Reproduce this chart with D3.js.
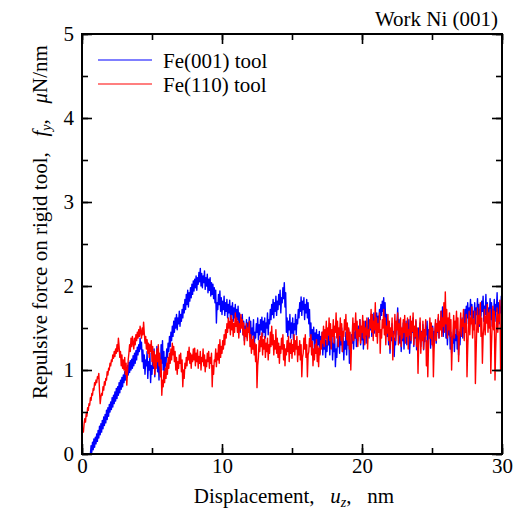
<!DOCTYPE html>
<html><head><meta charset="utf-8">
<script src="https://cdn.jsdelivr.net/npm/d3@7/dist/d3.min.js"></script>
<style>body{margin:0;background:#fff}svg{display:block}text{font-family:"Liberation Serif","Times New Roman",Times,serif;fill:#000}</style>
</head><body>
<script>
const xTicks=[0,10,20,30];
const yTicks=[0,1,2,3,4,5];
const seriesNames=["Fe(001) tool","Fe(110) tool"];
const titleText="Work Ni (001)";
const blueStart=0.6, redStart=0, step=0.05;
const blueValues=[
0.00,0.10,0.02,0.14,0.05,0.18,0.08,0.20,
0.12,0.24,0.15,0.28,0.19,0.33,0.23,0.36,0.26,0.40,0.30,0.44,0.34,0.47,0.37,0.52,0.41,0.55,0.45,0.59,
0.50,0.62,0.53,0.67,0.56,0.70,0.60,0.74,0.63,0.78,0.66,0.80,0.70,0.85,0.73,0.88,0.77,0.91,0.80,0.94,
0.85,0.98,0.88,1.03,0.91,1.05,0.94,1.09,0.97,1.11,1.00,1.13,1.02,1.17,1.05,1.20,1.08,1.23,1.12,1.27,
1.18,1.30,1.22,1.38,1.25,1.33,1.10,1.24,1.02,1.18,0.95,1.12,1.05,1.22,0.90,1.10,1.00,1.20,0.85,1.05,
0.95,1.15,1.02,1.25,0.92,1.12,1.05,1.28,0.98,1.20,0.88,1.10,1.00,1.30,1.08,1.35,1.00,1.22,0.92,1.15,
1.05,1.25,1.15,1.32,1.22,1.40,1.28,1.45,1.35,1.52,1.40,1.58,1.45,1.62,1.50,1.66,1.48,1.62,1.55,1.70,
1.52,1.66,1.58,1.72,1.62,1.78,1.68,1.84,1.72,1.90,1.78,1.95,1.75,1.92,1.82,1.98,1.86,2.02,1.90,2.06,
1.94,2.08,1.98,2.12,1.95,2.10,2.02,2.16,2.05,2.21,2.00,2.15,1.98,2.12,2.04,2.18,1.96,2.10,2.00,2.14,
1.92,2.08,1.95,2.10,1.88,2.04,1.90,2.02,1.85,1.98,1.80,1.95,1.56,1.80,1.72,1.90,1.78,1.94,1.70,1.86,
1.66,1.82,1.72,1.88,1.65,1.80,1.70,1.84,1.62,1.78,1.68,1.83,1.60,1.76,1.66,1.80,1.58,1.74,1.62,1.78,
1.55,1.72,1.60,1.76,1.50,1.68,1.45,1.62,1.52,1.66,1.42,1.58,1.35,1.52,1.45,1.60,1.38,1.56,1.48,1.63,
1.40,1.58,1.30,1.50,1.42,1.60,1.25,1.45,1.38,1.55,1.45,1.62,1.36,1.54,1.42,1.60,1.48,1.63,1.40,1.58,
1.45,1.62,1.38,1.56,1.50,1.68,1.42,1.60,1.55,1.72,1.60,1.78,1.66,1.84,1.62,1.80,1.70,1.88,1.65,1.82,
1.72,1.90,1.78,1.95,1.68,1.86,1.80,1.98,1.85,2.04,1.75,1.92,1.45,1.62,1.40,1.58,1.48,1.66,1.38,1.56,
1.44,1.62,1.36,1.55,1.48,1.66,1.42,1.60,1.55,1.72,1.62,1.80,1.70,1.87,1.65,1.82,1.72,1.86,1.60,1.78,
1.68,1.84,1.62,1.80,1.55,1.72,1.40,1.56,1.30,1.48,1.36,1.51,1.25,1.44,1.32,1.48,1.22,1.42,1.30,1.46,
1.20,1.40,1.28,1.45,1.18,1.36,1.25,1.42,1.15,1.35,1.22,1.40,1.30,1.48,1.18,1.38,1.26,1.44,1.12,1.32,
1.22,1.40,1.04,1.25,1.15,1.36,1.28,1.46,1.20,1.40,1.30,1.50,1.22,1.42,1.12,1.34,1.25,1.45,1.18,1.38,
1.30,1.48,1.08,1.30,1.20,1.42,1.32,1.50,1.25,1.45,1.38,1.55,1.28,1.48,1.35,1.52,1.42,1.60,1.30,1.50,
1.36,1.55,1.25,1.46,1.40,1.58,1.32,1.52,1.45,1.62,1.38,1.56,1.48,1.66,1.40,1.58,1.50,1.68,1.44,1.62,
1.52,1.68,1.46,1.64,1.55,1.72,1.60,1.78,1.65,1.82,1.70,1.86,1.62,1.80,1.50,1.66,1.40,1.58,1.30,1.50,
1.20,1.42,1.35,1.55,1.25,1.46,1.16,1.38,1.30,1.50,1.55,1.74,1.42,1.60,1.32,1.52,1.22,1.44,1.35,1.56,
1.25,1.46,1.38,1.58,1.30,1.50,1.42,1.60,1.20,1.40,1.32,1.52,1.45,1.62,1.28,1.48,1.38,1.58,1.24,1.44,
1.32,1.50,1.40,1.56,1.28,1.46,1.36,1.54,1.24,1.42,1.34,1.52,1.42,1.58,1.30,1.48,1.38,1.55,1.26,1.45,
1.35,1.52,1.28,1.46,1.40,1.56,1.32,1.50,1.45,1.62,1.38,1.55,1.50,1.70,1.45,1.75,1.40,1.62,1.48,1.66,
1.38,1.58,1.30,1.50,1.42,1.60,1.25,1.45,1.20,1.40,1.32,1.50,1.22,1.42,1.35,1.55,1.25,1.46,1.18,1.40,
1.30,1.50,1.42,1.62,1.38,1.58,1.50,1.72,1.56,1.76,1.62,1.80,1.55,1.74,1.66,1.84,1.58,1.78,1.52,1.70,
1.62,1.80,1.55,1.74,1.66,1.85,1.60,1.78,1.52,1.72,1.64,1.82,1.70,1.88,1.58,1.76,1.66,1.90,1.62,1.80,
1.55,1.74,1.66,1.85,1.60,1.80,1.52,1.72,1.64,1.84,1.58,1.78,1.70,1.92,1.62,1.80,1.55,1.75,1.68,1.88,
1.70];
const redValues=[
0.22,0.30,0.26,0.36,0.42,0.38,0.48,0.45,0.55,0.52,0.60,0.58,0.67,0.64,0.72,0.70,0.78,0.76,0.85,0.82,
0.88,0.85,0.92,0.90,0.96,0.75,0.60,0.68,0.72,0.70,0.80,0.76,0.86,0.82,0.90,0.88,0.98,0.94,1.02,1.00,
1.08,1.05,1.12,1.10,1.18,1.14,1.22,1.16,1.25,1.20,1.30,1.22,1.38,1.28,1.15,1.22,1.05,1.18,1.02,1.12,
1.00,1.15,0.95,1.08,0.82,0.98,1.12,1.20,1.30,1.22,1.38,1.28,1.40,1.32,1.25,1.38,1.30,1.42,1.35,1.45,
1.38,1.48,1.40,1.52,1.45,1.38,1.50,1.42,1.57,1.44,1.32,1.40,1.25,1.36,1.20,1.32,1.15,1.30,1.22,1.35,
1.10,1.28,1.05,1.22,0.95,1.18,1.02,1.25,1.10,1.30,1.05,1.20,0.92,1.12,0.70,0.88,0.80,0.98,0.85,1.02,
0.90,1.08,0.95,1.15,1.02,1.20,1.08,1.25,1.12,1.32,1.18,1.28,1.10,1.22,1.00,1.15,0.95,1.10,1.02,1.18,
1.08,1.20,0.98,1.12,0.80,1.00,0.90,1.08,1.02,1.15,1.05,1.22,1.12,1.27,1.08,1.20,1.02,1.18,1.10,1.25,
1.12,1.26,1.05,1.20,1.10,1.24,1.02,1.16,1.08,1.22,1.00,1.15,1.10,1.25,1.05,1.18,0.98,1.12,1.04,1.20,
1.10,1.22,1.02,1.15,1.08,1.20,0.80,1.05,0.95,1.12,1.10,1.25,1.04,1.20,1.12,1.30,1.08,1.36,1.15,1.28,
1.20,1.35,1.25,1.42,1.30,1.48,1.38,1.55,1.45,1.62,1.50,1.58,1.42,1.65,1.48,1.60,1.40,1.55,1.45,1.68,
1.52,1.62,1.45,1.58,1.38,1.55,1.48,1.66,1.50,1.60,1.42,1.56,1.30,1.48,1.40,1.55,1.35,1.50,1.45,1.58,
1.28,1.42,1.20,1.36,1.25,1.40,1.18,1.32,1.10,1.30,0.79,1.05,1.15,1.35,1.22,1.40,1.28,1.44,1.18,1.36,
1.25,1.40,1.15,1.32,1.22,1.38,1.12,1.30,1.20,1.45,1.28,1.52,1.30,1.42,1.18,1.35,1.25,1.48,1.20,1.38,
1.15,1.32,1.08,1.28,1.20,1.38,1.25,1.42,1.12,1.30,1.05,1.25,1.18,1.35,1.22,1.40,1.10,1.32,1.20,1.36,
1.14,1.30,1.22,1.42,1.18,1.35,1.25,1.40,1.10,1.28,1.18,1.35,1.12,1.30,0.92,1.15,1.20,1.38,1.25,1.42,
1.15,1.30,0.92,1.18,1.22,1.38,1.28,1.42,1.18,1.34,1.05,1.25,1.12,1.30,1.20,1.36,1.10,1.28,1.04,1.26,
1.18,1.35,1.25,1.45,1.32,1.52,1.28,1.48,1.38,1.58,1.30,1.50,1.42,1.62,1.35,1.55,1.25,1.48,1.40,1.60,
1.32,1.52,1.45,1.68,1.38,1.58,1.28,1.50,1.42,1.62,1.35,1.55,1.22,1.46,1.40,1.60,1.48,1.66,1.36,1.56,
1.30,1.50,1.25,1.45,1.00,1.30,1.42,1.62,1.35,1.55,1.48,1.68,1.38,1.58,1.28,1.48,1.40,1.60,1.32,1.52,
1.45,1.65,1.38,1.58,1.30,1.50,1.42,1.62,1.25,1.48,1.40,1.60,1.50,1.72,1.45,1.66,1.35,1.58,1.48,1.80,
1.40,1.62,1.32,1.55,1.45,1.68,1.20,1.48,1.38,1.60,1.50,1.72,1.42,1.62,1.30,1.52,1.44,1.66,1.35,1.58,
1.25,1.50,1.40,1.62,1.12,1.38,1.45,1.66,1.35,1.58,1.48,1.68,1.30,1.55,1.42,1.62,1.28,1.50,1.38,1.60,
1.45,1.65,1.32,1.55,1.40,1.62,1.25,1.48,1.42,1.64,1.35,1.58,1.46,1.68,1.30,1.52,1.40,1.60,1.28,1.50,
0.96,1.30,1.42,1.62,1.20,1.45,1.35,1.58,1.25,1.48,1.40,1.60,1.05,1.35,0.92,1.28,1.45,1.62,1.38,1.56,
1.30,1.50,0.92,1.25,1.42,1.60,1.35,1.55,1.46,1.66,1.38,1.58,1.48,1.70,1.40,1.62,1.52,1.80,1.45,1.93,
1.55,1.72,1.38,1.62,1.48,1.68,1.40,1.60,1.00,1.32,1.45,1.65,1.38,1.58,1.50,1.70,1.42,1.62,1.10,1.40,
1.48,1.68,1.40,1.60,1.52,1.72,1.35,1.55,1.45,1.66,0.92,1.25,1.50,1.70,1.42,1.62,1.55,1.75,1.38,1.60,
1.48,1.70,0.84,1.20,1.52,1.74,1.45,1.65,1.55,1.80,1.40,1.62,1.08,1.40,1.50,1.72,1.42,1.64,1.56,1.78,
1.45,1.68,1.50,1.72,0.96,1.30,1.55,1.76,1.48,1.70,0.88,1.25,1.52,1.74,1.45,1.66,1.58,1.83,1.00,1.40,
1.60];

const W=518,H=514;
const L=82,R=502,T=34,B=454;
const FS=21;
const svg=d3.select("body").append("svg").attr("width",W).attr("height",H);
const x=d3.scaleLinear().domain([0,30]).range([L,R]);
const y=d3.scaleLinear().domain([0,5]).range([B,T]);
const toPts=(vals,start)=>vals.map((v,i)=>[start+i*step,v]);
const line=d3.line().x(d=>x(d[0])).y(d=>y(d[1]));
const g=svg.append("g");
g.append("path").datum(toPts(blueValues,blueStart)).attr("d",line).attr("fill","none").attr("stroke","#0000ff").attr("stroke-width",1.4).attr("stroke-linejoin","round");
g.append("path").datum(toPts(redValues,redStart)).attr("d",line).attr("fill","none").attr("stroke","#ff0000").attr("stroke-width",1.4).attr("stroke-linejoin","round");

// axes with inward ticks
const xMinor=d3.range(0,31,5), yMinor=d3.range(0,5.01,0.5);
svg.append("g").attr("transform",`translate(0,${B})`).call(d3.axisBottom(x).tickValues(xMinor).tickSize(-6).tickFormat(""));
svg.append("g").attr("transform",`translate(0,${B})`).call(d3.axisBottom(x).tickValues(xTicks).tickSize(-10).tickPadding(4).tickFormat(d3.format("d")));
svg.append("g").attr("transform",`translate(0,${T})`).call(d3.axisTop(x).tickValues(xMinor).tickSize(-6).tickFormat(""));
svg.append("g").attr("transform",`translate(0,${T})`).call(d3.axisTop(x).tickValues(xTicks).tickSize(-10).tickFormat(""));
svg.append("g").attr("transform",`translate(${L},0)`).call(d3.axisLeft(y).tickValues(yMinor).tickSize(-6).tickFormat(""));
svg.append("g").attr("transform",`translate(${L},0)`).call(d3.axisLeft(y).tickValues(yTicks).tickSize(-10).tickPadding(8).tickFormat(d3.format("d")));
svg.append("g").attr("transform",`translate(${R},0)`).call(d3.axisRight(y).tickValues(yMinor).tickSize(-6).tickFormat(""));
svg.append("g").attr("transform",`translate(${R},0)`).call(d3.axisRight(y).tickValues(yTicks).tickSize(-10).tickFormat(""));
svg.selectAll(".domain").remove();
svg.selectAll(".tick line").attr("stroke","#000").attr("stroke-width",1.6);
svg.selectAll(".tick text").attr("font-size",FS).attr("font-family","Liberation Serif").attr("fill","#000");
svg.append("rect").attr("x",L).attr("y",T).attr("width",R-L).attr("height",B-T).attr("fill","none").attr("stroke","#000").attr("stroke-width",2);

// legend
const leg=[{n:seriesNames[0],c:"#0000ff"},{n:seriesNames[1],c:"#ff0000"}];
leg.forEach((d,i)=>{
  const ly=60+i*24;
  svg.append("line").attr("x1",98).attr("x2",152).attr("y1",ly).attr("y2",ly).attr("stroke",d.c).attr("stroke-width",1.2);
  svg.append("text").attr("x",163).attr("y",ly+8).attr("font-size",FS).text(d.n);
});
// title
svg.append("text").attr("x",498).attr("y",25.5).attr("text-anchor","end").attr("font-size",FS).text(titleText);
// x label
const xl=svg.append("text").attr("x",294).attr("y",503).attr("text-anchor","middle").attr("font-size",FS);
xl.append("tspan").text("Displacement,\u2002 ");
xl.append("tspan").attr("font-style","italic").text("u");
xl.append("tspan").attr("font-style","italic").attr("font-size",14).attr("dy",4).text("z");
xl.append("tspan").attr("dy",-4).text(",\u2002 nm");
// y label
const yl=svg.append("text").attr("transform","translate(47,222) rotate(-90)").attr("text-anchor","middle").attr("font-size",FS);
yl.append("tspan").text("Repulsive force on rigid tool,\u2002 ");
yl.append("tspan").attr("font-style","italic").text("f");
yl.append("tspan").attr("font-style","italic").attr("font-size",14).attr("dy",4).text("y");
yl.append("tspan").attr("dy",-4).text(",\u2002 ");
yl.append("tspan").attr("font-style","italic").text("\u03bc");
yl.append("tspan").text("N/nm");
</script>
</body></html>
